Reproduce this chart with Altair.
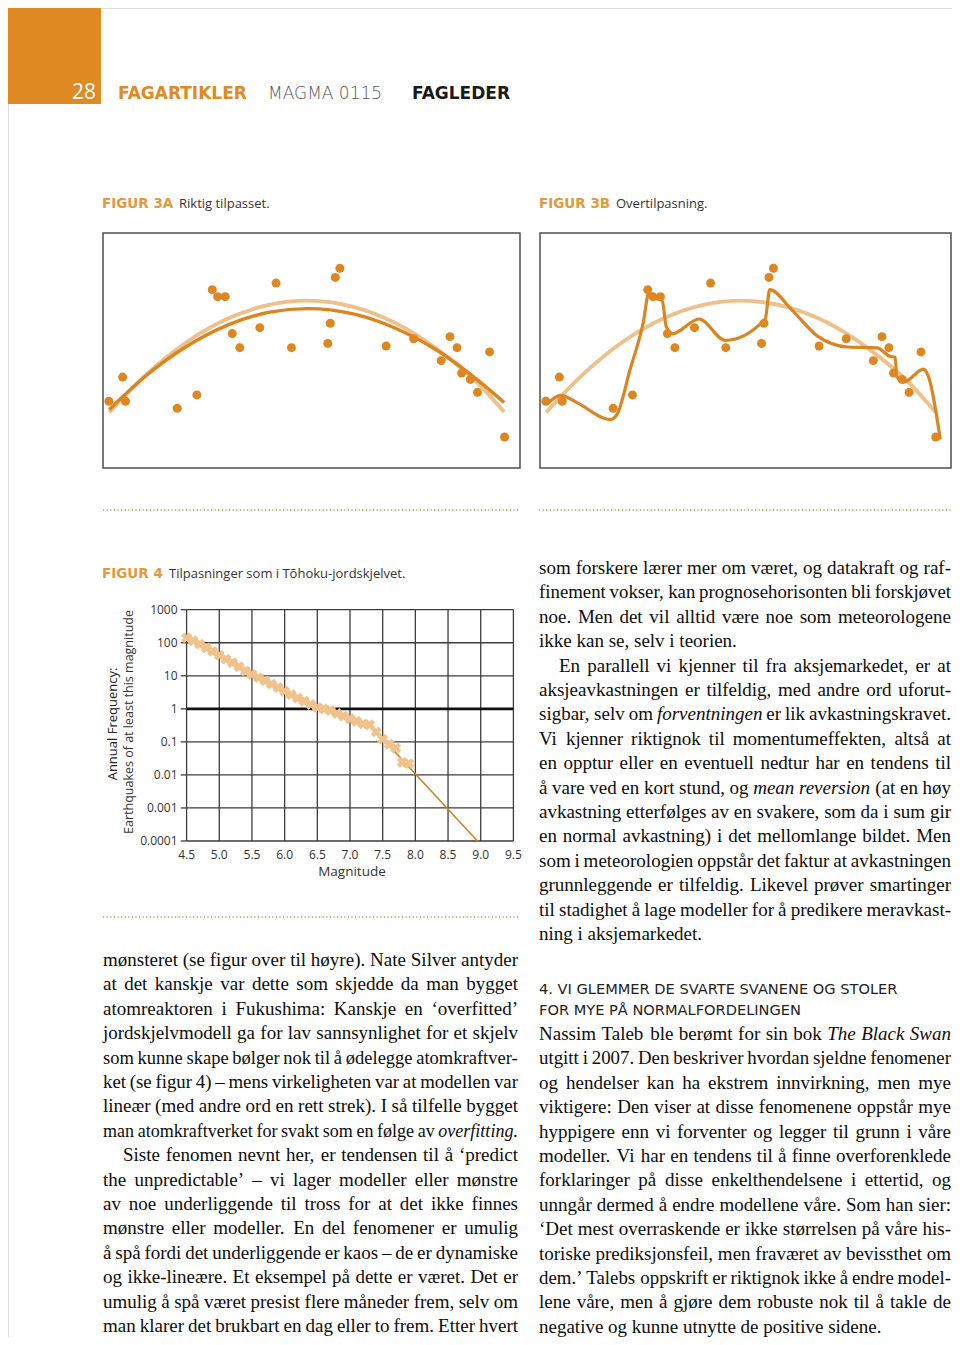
import altair as alt
import pandas as pd

# ------------------------------------------------------------------ data
# Figur 3A / 3B : observations (box coordinates 0-100)
fig3_x = [1.4, 4.7, 5.4, 17.8, 22.5, 26.2, 27.5, 29.3, 31.0, 32.8, 37.6, 41.5, 45.2, 53.9,
          54.5, 55.7, 56.8, 67.9, 74.5, 81.1, 83.2, 84.9, 86.0, 88.1, 89.8, 92.7, 96.3]
fig3_y = [28.4, 38.7, 28.4, 25.4, 31.1, 75.9, 72.9, 72.9, 57.2, 51.2, 59.7, 78.7, 51.2, 53.0,
          61.6, 81.1, 85.0, 51.9, 55.0, 45.7, 55.9, 51.2, 40.4, 37.7, 32.2, 49.4, 13.2]

# smooth curves
curve_x = [1.5, 10, 20, 30, 40, 49, 60, 70, 80, 90, 96.2]
good_fit_y = [24.8, 38.8, 51.7, 60.9, 66.3, 67.8, 65.6, 59.6, 50.2, 37.2, 27.9]
true_curve_y = [23.7, 39.1, 53.5, 63.6, 69.5, 71.2, 68.6, 61.8, 50.7, 35.9, 23.8]

# over-fitted curve (figur 3B)
over_x = [1.7, 5.1, 9.1, 17.1, 18.7, 21.9, 25.1, 26.5, 28.1, 29.7, 30.7, 32.3, 38.7, 45.1,
          54.8, 55.9, 61.2, 67.6, 74.8, 82.0, 85.2, 86.4, 86.8, 88.5, 93.3, 94.5, 97.4]
over_y = [27.2, 30.9, 27.7, 20.6, 22.7, 41.8, 61.7, 74.5, 72.1, 71.6, 60.3, 57.2, 63.4, 54.3,
          63.4, 75.9, 67.4, 56.0, 51.5, 51.1, 47.5, 47.2, 39.0, 36.5, 42.1, 39.0, 12.1]

# Figur 4 : Gutenberg-Richter style data
quake_mag = [4.5, 4.6, 4.7, 4.8, 4.9, 5.0, 5.1, 5.2, 5.3, 5.4, 5.5, 5.6, 5.7, 5.8, 5.9, 6.0,
             6.1, 6.2, 6.3, 6.4, 6.5, 6.6, 6.7, 6.8, 6.9, 7.0, 7.1, 7.2, 7.3, 7.4, 7.5, 7.6,
             7.7, 7.8, 7.9]
quake_freq = [140, 115, 90, 70, 55, 42, 32, 25, 19, 14, 11, 8.8, 7, 5.6, 4.4, 3.4,
              2.7, 2.1, 1.7, 1.35, 1.1, 1.0, 0.9, 0.72, 0.6, 0.5, 0.42, 0.35, 0.33, 0.2, 0.12, 0.085,
              0.065, 0.024, 0.022]
fit_mag = [7.45, 8.95]
fit_freq = [0.16, 0.0001]

x_ticks = [4.5, 5.0, 5.5, 6.0, 6.5, 7.0, 7.5, 8.0, 8.5, 9.0, 9.5]
x_tick_labels = ["4.5", "5.0", "5.5", "6.0", "6.5", "7.0", "7.5", "8.0", "8.5", "9.0", "9.5"]
y_ticks = [1000, 100, 10, 1, 0.1, 0.01, 0.001, 0.0001]
y_tick_labels = ["1000", "100", "10", "1", "0.1", "0.01", "0.001", "0.0001"]

# ------------------------------------------------------------------ texts
header_page = "28"
header_section = "FAGARTIKLER"
header_mag = "MAGMA 0115"
header_type = "FAGLEDER"

fig3a_label, fig3a_caption = "FIGUR 3A", "Riktig tilpasset."
fig3b_label, fig3b_caption = "FIGUR 3B", "Overtilpasning."
fig4_label, fig4_caption = "FIGUR 4", "Tilpasninger som i Tōhoku-jordskjelvet."
fig4_xtitle = "Magnitude"
fig4_ytitle = ["Annual Frequency:", "Earthquakes of at least this magnitude"]

left_lines = [
    "mønsteret (se figur over til høyre). Nate Silver antyder",
    "at det kanskje var dette som skjedde da man bygget",
    "atomreaktoren i Fukushima: Kanskje en ‘overfitted’",
    "jordskjelvmodell ga for lav sannsynlighet for et skjelv",
    "som kunne skape bølger nok til å ødelegge atomkraftver-",
    "ket (se figur 4) – mens virkeligheten var at modellen var",
    "lineær (med andre ord en rett strek). I så tilfelle bygget",
    "man atomkraftverket for svakt som en følge av overfitting.",
    "Siste fenomen nevnt her, er tendensen til å ‘predict",
    "the unpredictable’ – vi lager modeller eller mønstre",
    "av noe underliggende til tross for at det ikke finnes",
    "mønstre eller modeller. En del fenomener er umulig",
    "å spå fordi det underliggende er kaos – de er dynamiske",
    "og ikke-lineære. Et eksempel på dette er været. Det er",
    "umulig å spå været presist flere måneder frem, selv om",
    "man klarer det brukbart en dag eller to frem. Etter hvert",
]
right_lines = [
    "som forskere lærer mer om været, og datakraft og raf-",
    "finement vokser, kan prognosehorisonten bli forskjøvet",
    "noe. Men det vil alltid være noe som meteorologene",
    "ikke kan se, selv i teorien.",
    "En parallell vi kjenner til fra aksjemarkedet, er at",
    "aksjeavkastningen er tilfeldig, med andre ord uforut-",
    "sigbar, selv om forventningen er lik avkastningskravet.",
    "Vi kjenner riktignok til momentumeffekten, altså at",
    "en opptur eller en eventuell nedtur har en tendens til",
    "å vare ved en kort stund, og mean reversion (at en høy",
    "avkastning etterfølges av en svakere, som da i sum gir",
    "en normal avkastning) i det mellomlange bildet. Men",
    "som i meteorologien oppstår det faktur at avkastningen",
    "grunnleggende er tilfeldig. Likevel prøver smartinger",
    "til stadighet å lage modeller for å predikere meravkast-",
    "ning i aksjemarkedet.",
]
heading_lines = ["4.  VI GLEMMER DE SVARTE SVANENE OG STOLER",
                 "FOR MYE PÅ NORMALFORDELINGEN"]
right2_lines = [
    "Nassim Taleb ble berømt for sin bok The Black Swan",
    "utgitt i 2007. Den beskriver hvordan sjeldne fenomener",
    "og hendelser kan ha ekstrem innvirkning, men mye",
    "viktigere: Den viser at disse fenomenene oppstår mye",
    "hyppigere enn vi forventer og legger til grunn i våre",
    "modeller. Vi har en tendens til å finne overforenklede",
    "forklaringer på disse enkelthendelsene i ettertid, og",
    "unngår dermed å endre modellene våre. Som han sier:",
    "‘Det mest overraskende er ikke størrelsen på våre his-",
    "toriske prediksjonsfeil, men fraværet av bevissthet om",
    "dem.’ Talebs oppskrift er riktignok ikke å endre model-",
    "lene våre, men å gjøre dem robuste nok til å takle de",
    "negative og kunne utnytte de positive sidene.",
]
italic_words = {"overfitting.", "forventningen", "mean", "reversion", "The", "Black", "Swan"}

# ------------------------------------------------------------------ layout helpers
W, H = 944, 1329
ORANGE = "#DF8A22"
SERIF = "Liberation Serif"
SANS = "Open Sans"
WIDE = "DejaVu Sans"
INK = "#0d0d0d"


def P(v):  # page pixel -> plot pixel
    return v - 8


# Times / Liberation Serif advance widths (1/1000 em)
REG = {' ': 250, '(': 333, ')': 333, ',': 250, '-': 333, '.': 250, ':': 278, '?': 444,
       '‘': 333, '’': 333, '–': 500, 'ø': 500, 'å': 444, 'æ': 667, 'Ø': 722, 'Å': 722}
REG.update({d: 500 for d in "0123456789"})
REG.update(dict(zip("ABCDEFGHIJKLMNOPQRSTUVWXYZ",
                    [722, 667, 667, 722, 611, 556, 722, 722, 333, 389, 722, 611, 889, 722,
                     722, 556, 722, 667, 556, 611, 722, 722, 944, 722, 722, 611])))
REG.update(dict(zip("abcdefghijklmnopqrstuvwxyz",
                    [444, 500, 444, 500, 444, 333, 500, 500, 278, 278, 500, 278, 778, 500,
                     500, 500, 500, 333, 389, 278, 500, 500, 722, 500, 500, 444])))
ITA = dict(REG)
ITA.update(dict(zip("abcdefghijklmnopqrstuvwxyz",
                    [500, 500, 444, 500, 444, 278, 500, 500, 278, 278, 444, 278, 722, 500,
                     500, 500, 500, 389, 389, 278, 500, 444, 667, 444, 444, 389])))
ITA.update({'T': 556, 'B': 611, 'S': 500})

FS = 19.0
LEAD = 24.4
MIN_GAP_EM = 0.2


def wem(word, italic):
    t = ITA if italic else REG
    return sum(t.get(c, 500) for c in word) / 1000.0


def layout(lines, x0, width, base0, indent_rows, ragged_rows):
    out = []
    for i, line in enumerate(lines):
        words = [w for w in line.split(" ") if w != ""]
        xs = x0 + (20 if i in indent_rows else 0)
        avail = x0 + width - xs
        ems = [wem(w, w in italic_words) for w in words]
        ngap = max(len(words) - 1, 1)
        fs = min(FS, avail / (sum(ems) + ngap * MIN_GAP_EM))
        ws = [e * fs for e in ems]
        if i in ragged_rows or len(words) < 2:
            gap = 0.25 * fs
        else:
            gap = (avail - sum(ws)) / (len(words) - 1)
        x = xs
        for w, wl in zip(words, ws):
            out.append({"tx": P(x), "ty": P(base0 + i * LEAD), "t": w, "fs": fs,
                        "it": w in italic_words})
            x += wl + gap
    return out


RIGHT_X, RIGHT_W = 539, 412
words = []
words += layout(left_lines, 103, 415, 966, {8}, set())
words += layout(right_lines, RIGHT_X, RIGHT_W, 574, {4}, {3, 15})
words += layout(right2_lines, RIGHT_X, RIGHT_W, 1040, set(), {12})
wdf = pd.DataFrame(words)

TX = alt.X("tx:Q", scale=alt.Scale(domain=[0, W], range=[0, W], nice=False, zero=False), axis=None)
TY = alt.Y("ty:Q", scale=alt.Scale(domain=[0, H], range=[0, H], nice=False, zero=False), axis=None)


def txt(items, **kw):
    df = pd.DataFrame([{"tx": P(x), "ty": P(y), "t": s} for (s, x, y) in items])
    return alt.Chart(df).mark_text(**kw).encode(x=TX, y=TY, text="t:N")


text_layers = []
# header block
hdr_box = pd.DataFrame({"tx": [P(6)], "tx2": [P(101)], "ty": [P(7)], "ty2": [P(104)]})
text_layers.append(alt.Chart(hdr_box).mark_rect(color=ORANGE).encode(
    x=TX, x2="tx2:Q", y=TY, y2="ty2:Q"))
text_layers.append(txt([(header_page, 96, 99)], font=SANS, fontSize=21, fontWeight=500,
                       color="white", align="right", baseline="alphabetic"))
text_layers.append(txt([(header_section, 118, 99)], font=WIDE, fontSize=17, fontWeight="bold",
                       color=ORANGE, align="left", baseline="alphabetic"))
text_layers.append(txt([(header_mag, 268, 99)], font=WIDE, fontSize=17, fontWeight=200,
                       color="#555555", align="left", baseline="alphabetic"))
text_layers.append(txt([(header_type, 412, 99)], font=WIDE, fontSize=17, fontWeight="bold",
                       color="#1a1a1a", align="left", baseline="alphabetic"))
# figure captions
text_layers.append(txt([(fig3a_label, 102, 208), (fig3b_label, 539, 208), (fig4_label, 102, 578)],
                       font=WIDE, fontSize=13.5, fontWeight="bold", color="#E39A3B",
                       align="left", baseline="alphabetic"))
text_layers.append(txt([(fig3a_caption, 179, 208), (fig3b_caption, 616, 208), (fig4_caption, 169, 578)],
                       font=SANS, fontSize=13, color="#333333", align="left", baseline="alphabetic"))
# dotted separators
dots = pd.DataFrame({"tx": [P(103), P(539), P(103)], "tx2": [P(518), P(951), P(518)],
                     "ty": [P(510), P(510), P(917)]})
text_layers.append(alt.Chart(dots).mark_rule(color="#C99650", strokeWidth=1.6, strokeDash=[1.2, 2.4]).encode(
    x=TX, x2="tx2:Q", y=TY))
# figure 4 axis titles
text_layers.append(txt([(fig4_xtitle, 352, 872)], font=SANS, fontSize=13.5, color="#333333",
                       align="center", baseline="middle"))
text_layers.append(txt([(fig4_ytitle[0], 113, 724)], font=SANS, fontSize=13, fontWeight=500,
                       color="#222222", align="center", baseline="middle", angle=270))
text_layers.append(txt([(fig4_ytitle[1], 128.5, 722)], font=SANS, fontSize=12.5,
                       color="#333333", align="center", baseline="middle", angle=270))
# section heading
text_layers.append(txt([(heading_lines[0], 539, 994), (heading_lines[1], 539, 1015)],
                       font=WIDE, fontSize=14.6, color="#222222",
                       align="left", baseline="alphabetic"))
# body text
FSZ = alt.Size("fs:Q", scale=None, legend=None)
text_layers.append(alt.Chart(wdf).transform_filter("!datum.it").mark_text(
    font=SERIF, color=INK, align="left", baseline="alphabetic").encode(
    x=TX, y=TY, text="t:N", size=FSZ))
text_layers.append(alt.Chart(wdf).transform_filter("datum.it").mark_text(
    font=SERIF, fontStyle="italic", color=INK, align="left",
    baseline="alphabetic").encode(x=TX, y=TY, text="t:N", size=FSZ))
text_group = alt.layer(*text_layers)

# ------------------------------------------------------------------ figure 3A / 3B


def fig3(xr, prefix, overfit):
    fx, fy = prefix + "x", prefix + "y"
    X = alt.X(f"{fx}:Q", scale=alt.Scale(domain=[0, 100], range=xr, nice=False, zero=False), axis=None)
    Y = alt.Y(f"{fy}:Q", scale=alt.Scale(domain=[0, 100], range=[P(468), P(233)], nice=False, zero=False),
              axis=None)
    box = pd.DataFrame({fx: [0], fx + "2": [100], fy: [0], fy + "2": [100]})
    pts = pd.DataFrame({fx: fig3_x, fy: fig3_y})
    light = pd.DataFrame({fx: curve_x, fy: true_curve_y})
    layers = [
        alt.Chart(box).mark_rect(fillOpacity=0, stroke="#4d4d4d", strokeWidth=1.5).encode(
            x=X, x2=f"{fx}2:Q", y=Y, y2=f"{fy}2:Q"),
        alt.Chart(light).mark_line(color="#EDC08C", strokeWidth=3.8, interpolate="monotone").encode(x=X, y=Y),
    ]
    if overfit:
        od = pd.DataFrame({fx: over_x, fy: over_y})
        layers.append(alt.Chart(od).mark_line(color="#DC8520", strokeWidth=3.2,
                                              interpolate="monotone").encode(x=X, y=Y))
    else:
        gd = pd.DataFrame({fx: curve_x, fy: good_fit_y})
        layers.append(alt.Chart(gd).mark_line(color="#DC8520", strokeWidth=3.4,
                                              interpolate="monotone").encode(x=X, y=Y))
    layers.append(alt.Chart(pts).mark_circle(color="#DE8620", opacity=1, size=80).encode(x=X, y=Y))
    return alt.layer(*layers)


fig3a = fig3([P(103), P(520)], "a", False)
fig3b = fig3([P(540), P(951)], "b", True)

# ------------------------------------------------------------------ figure 4
MX = alt.X("mag:Q", scale=alt.Scale(domain=[4.5, 9.5], range=[P(186.6), P(513.4)], nice=False, zero=False),
           axis=None)
FY = alt.Y("freq:Q", scale=alt.Scale(type="log", domain=[0.0001, 1000], range=[P(841), P(609.7)], nice=False),
           axis=None)

vgrid = pd.DataFrame({"mag": x_ticks, "freq": [0.0001] * len(x_ticks), "freq2": [1000] * len(x_ticks)})
hgrid = pd.DataFrame({"freq": [v for v in y_ticks if v != 1], "mag": 4.5, "mag2": 9.5})
one_line = pd.DataFrame({"freq": [1], "mag": [4.5], "mag2": [9.5]})
yticks = pd.DataFrame({"freq": y_ticks, "mag": 4.41, "mag2": 4.5})
ylab = pd.DataFrame({"freq": y_ticks, "mag": 4.5, "t": y_tick_labels})
xlab = pd.DataFrame({"mag": x_ticks, "freq": 0.0001, "t": x_tick_labels})
quakes = pd.DataFrame({"mag": quake_mag, "freq": quake_freq})
fitdf = pd.DataFrame({"mag": fit_mag, "freq": fit_freq})

fig4 = alt.layer(
    alt.Chart(vgrid).mark_rule(color="#3d3d3d", strokeWidth=1.3).encode(x=MX, y=FY, y2="freq2:Q"),
    alt.Chart(hgrid).mark_rule(color="#3d3d3d", strokeWidth=1.3).encode(y=FY, x=MX, x2="mag2:Q"),
    alt.Chart(yticks).mark_rule(color="#3d3d3d", strokeWidth=1.3).encode(y=FY, x=MX, x2="mag2:Q"),
    alt.Chart(one_line).mark_rule(color="#111111", strokeWidth=2.6).encode(y=FY, x=MX, x2="mag2:Q"),
    alt.Chart(ylab).mark_text(font=SANS, fontSize=12, color="#333333", align="right", baseline="middle",
                              dx=-9).encode(x=MX, y=FY, text="t:N"),
    alt.Chart(xlab).mark_text(font=SANS, fontSize=12, color="#333333", align="center", baseline="middle",
                              dy=14).encode(x=MX, y=FY, text="t:N"),
    alt.Chart(fitdf).mark_line(color="#C8862E", strokeWidth=1.6).encode(x=MX, y=FY),
    alt.Chart(quakes).mark_point(shape="cross", angle=45, filled=True, size=120, color="#F0C28C",
                                 opacity=1).encode(x=MX, y=FY),
)

chart = alt.layer(text_group, fig3a, fig3b, fig4).resolve_scale(
    x="independent", y="independent"
).properties(
    width=W, height=H, padding=0, autosize="none"
).configure_view(strokeWidth=0).configure(background="white")

chart.save("out.html", embed_options={"renderer": "svg", "actions": False})
